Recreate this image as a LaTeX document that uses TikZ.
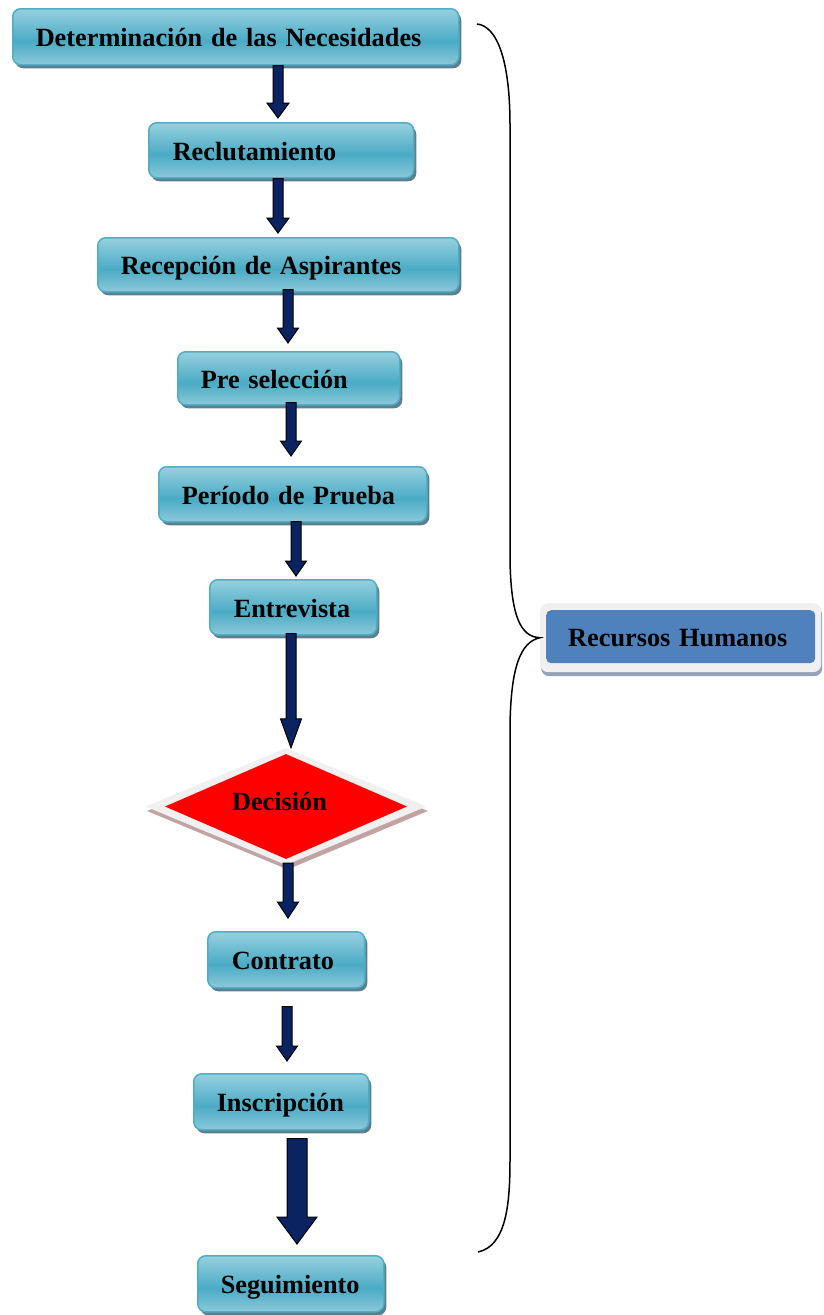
\documentclass[tikz,border=0pt]{standalone}
\usepackage{fontspec}
\setmainfont{Liberation Serif}
\usetikzlibrary{calc,shapes.geometric,shadows}
\definecolor{boxlight}{HTML}{97D0DF}
\definecolor{boxlow}{HTML}{8CC9D9}
\definecolor{boxdark}{HTML}{4AABC5}
\definecolor{boxedge}{HTML}{4FADC7}
\definecolor{boxshadow}{HTML}{5C7F8D}
\definecolor{arrowfill}{HTML}{0B2361}
\definecolor{rhblue}{HTML}{4F81BD}
\definecolor{paleframe}{HTML}{F0F0F0}
\definecolor{rhshadow}{HTML}{95A3B8}
\definecolor{decshadow}{HTML}{C2A3A3}
\pgfdeclareverticalshading{boxshade}{100bp}{color(0bp)=(boxlow); color(25bp)=(boxlow); color(46bp)=(boxdark); color(75bp)=(boxlight); color(100bp)=(boxlight)}
\newcommand\flowarrow[8]{%
  \coordinate (fa-s) at ($(#1 -| #3)+(0,#4)$);
  \coordinate (fa-e) at ($(#2 -| #3)+(0,-#5)$);
  \filldraw[arrowst] ($(fa-s)+(-#6,0)$) -- ($(fa-e)+(-#6,-#8)$) -- ($(fa-e)+(-#7,-#8)$) -- (fa-e) -- ($(fa-e)+(#7,-#8)$) -- ($(fa-e)+(#6,-#8)$) -- ($(fa-s)+(#6,0)$) -- cycle;}
\tikzset{
  labelfont/.style={font=\fontsize{26.3}{30}\selectfont\bfseries},
  stepbox/.style={rectangle, rounded corners=8pt, draw=boxedge, line width=1.5pt,
    shading=boxshade,
    drop shadow={shadow xshift=2.5pt, shadow yshift=-3.5pt, fill=boxshadow, opacity=1},
    inner sep=0pt, align=left, anchor=north west, text height=24pt, text depth=4pt, labelfont},
  arrowst/.style={fill=arrowfill, draw=black, line width=1pt, line join=miter},
  bracest/.style={draw=black, line width=1.5pt},
}
\begin{document}
\begin{tikzpicture}[x=1pt,y=-1pt]
\useasboundingbox (0,0) rectangle (824,1315);
% steps
\node[stepbox, text width=446pt, minimum height=56pt] (n1) at (12,8) {\hspace*{23pt}Determinación de las Necesidades};
\node[stepbox, text width=265pt, minimum height=55pt] (n2) at (148,122) {\hspace*{24pt}Reclutamiento};
\node[stepbox, text width=361pt, minimum height=54pt] (n3) at (97,237) {\hspace*{23pt}Recepción de Aspirantes};
\node[stepbox, text width=222pt, minimum height=53pt] (n4) at (177,351) {\hspace*{23pt}Pre selección};
\node[stepbox, text width=268pt, minimum height=55pt] (n5) at (158,466) {\hspace*{23pt}Período de Prueba};
\node[stepbox, text width=167pt, minimum height=55pt] (n6) at (209,579) {\hspace*{24pt}Entrevista};
% decision
\node[diamond, fill=paleframe, minimum width=281pt, minimum height=117pt, inner sep=0pt,
  drop shadow={shadow xshift=1.5pt, shadow yshift=-4.5pt, fill=decshadow, opacity=1}] (decframe) at (286,806.5) {};
\node[diamond, fill=red, minimum width=242pt, minimum height=105pt, inner sep=0pt,
  text height=12pt, text depth=5pt, labelfont] (dec) at (286,806.5) {\hspace*{-13pt}Decisión};
\node[stepbox, text width=157pt, minimum height=56pt] (n8) at (207,931) {\hspace*{24pt}Contrato};
\node[stepbox, text width=175pt, minimum height=56pt] (n9) at (193,1073) {\hspace*{23pt}Inscripción};
\node[stepbox, text width=186pt, minimum height=56pt] (n10) at (197,1255) {\hspace*{23pt}Seguimiento};
% Recursos Humanos
\node[rectangle, rounded corners=8pt, fill=paleframe, minimum width=281pt, minimum height=69pt,
  anchor=north west, inner sep=0pt,
  drop shadow={shadow xshift=1pt, shadow yshift=-4pt, fill=rhshadow, opacity=1}] (rhframe) at (540,603) {};
\node[rectangle, rounded corners=5pt, fill=rhblue, text width=269pt, minimum height=53pt,
  inner sep=0pt, align=left, anchor=north west, text height=24pt, text depth=4pt, labelfont] (rh) at (546,610) {\hspace*{22pt}Recursos Humanos};
% arrows
\coordinate (ax1) at (278,0);
\coordinate (ax2) at (278,0);
\coordinate (ax3) at (288,0);
\coordinate (ax4) at (291,0);
\coordinate (ax5) at (296,0);
\coordinate (ax6) at (291,0);
\coordinate (ax7) at (288,0);
\coordinate (ax8) at (287,0);
\coordinate (ax9) at (297,0);
\flowarrow{n1.south}{n2.north}{ax1}{0}{4}{5}{11}{15}
\flowarrow{n2.south}{n3.north}{ax2}{0}{4}{5}{11}{15}
\flowarrow{n3.south}{n4.north}{ax3}{-3}{8}{5}{10.5}{15}
\flowarrow{n4.south}{n5.north}{ax4}{-3}{10}{5}{10.5}{15}
\flowarrow{n5.south}{n6.north}{ax5}{-1}{3}{5}{10.5}{15}
\flowarrow{n6.south}{decframe.north}{ax6}{-2}{0}{5}{10.5}{29}
\flowarrow{decframe.south}{n8.north}{ax7}{-2}{13}{5}{10.5}{16}
\flowarrow{n8.south}{n9.north}{ax8}{18}{12}{5}{10.5}{15}
\flowarrow{n9.south}{n10.north}{ax9}{8}{11}{10}{20}{27}
% brace
\coordinate (bt) at (477,24);
\coordinate (bb) at (478,1252);
\draw[bracest] (bt) .. controls (497,26) and (510,60) .. (510,125) -- (510,560)
  .. controls (511,615) and (520,637) .. (rhframe.west)
  .. controls (520,642) and (511,668) .. (510,725) -- (510,1160)
  .. controls (510,1205) and (506,1246) .. (bb);
\end{tikzpicture}
\end{document}
